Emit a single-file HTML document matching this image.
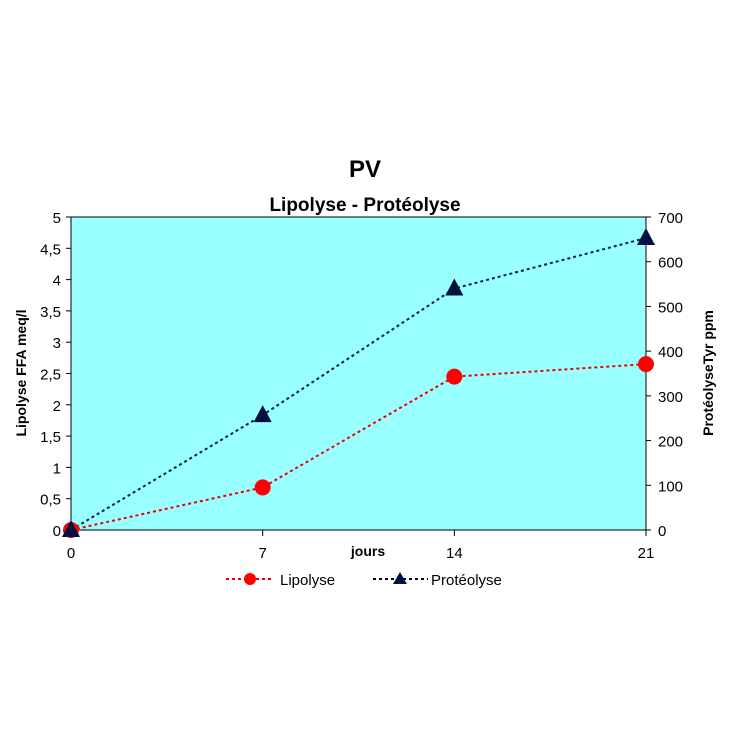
<!DOCTYPE html>
<html><head><meta charset="utf-8"><style>
body{margin:0;background:#fff;font-family:"Liberation Sans",sans-serif}
</style></head><body>
<svg width="730" height="730" xmlns="http://www.w3.org/2000/svg" font-family="Liberation Sans, sans-serif">
<rect width="730" height="730" fill="#fff"/>
<text x="365" y="177" text-anchor="middle" font-size="24" font-weight="bold">PV</text>
<text x="365" y="211" text-anchor="middle" font-size="19" font-weight="bold">Lipolyse - Protéolyse</text>
<rect x="71" y="217" width="575" height="313" fill="#99ffff" stroke="#000" stroke-width="1"/>
<g id="axes"></g>
<g id="series"></g>
<text transform="translate(26,373) rotate(-90)" text-anchor="middle" font-size="14" font-weight="bold">Lipolyse FFA meq/l</text>
<text transform="translate(713,373) rotate(-90)" text-anchor="middle" font-size="14" font-weight="bold">ProtéolyseTyr ppm</text>
<text x="368" y="556" text-anchor="middle" font-size="14" font-weight="bold">jours</text>
<g>
<g>
<line x1="226" y1="579" x2="274" y2="579" stroke="#e00" stroke-width="2" stroke-dasharray="3,3"/>
<circle cx="250" cy="579" r="6" fill="#f00"/>
<text x="280" y="585" font-size="15">Lipolyse</text></g>
<g>
<line x1="373" y1="579" x2="428" y2="579" stroke="#002" stroke-width="2" stroke-dasharray="3,3"/>
<polygon points="400,572 407,584 393,584" fill="#001040"/>
<text x="431" y="585" font-size="15">Protéolyse</text></g>
</g>
</svg>
<script>
const days=[0,7,14,21];
const lipolyse=[0,0.68,2.45,2.65];
const proteolyse=[0,257,540,653];
const leftTicks=["0","0,5","1","1,5","2","2,5","3","3,5","4","4,5","5"];
const rightTicks=[0,100,200,300,400,500,600,700];
const NS="http://www.w3.org/2000/svg";
const X0=71,X1=646,Y0=530,Y1=217;
const xs=d=>X0+(d/21)*(X1-X0);
const yl=v=>Y0-(v/5)*(Y0-Y1);
const yr=v=>Y0-(v/700)*(Y0-Y1);
function mk(tag,attrs,parent,text){const e=document.createElementNS(NS,tag);for(const k in attrs)e.setAttribute(k,attrs[k]);if(text!==undefined)e.textContent=text;parent.appendChild(e);return e;}
const ax=document.getElementById('axes');
leftTicks.forEach((t,i)=>{const y=yl(i*0.5);
mk('line',{x1:X0-5,y1:y,x2:X0,y2:y,stroke:'#000'},ax);
const e=mk('text',{x:X0-10,y:y+6,'text-anchor':'end','font-size':15},ax,t);

});
rightTicks.forEach(v=>{const y=yr(v);
mk('line',{x1:X1,y1:y,x2:X1+5,y2:y,stroke:'#000'},ax);
const e=mk('text',{x:X1+12,y:y+6,'font-size':15},ax,String(v));

});
days.forEach(d=>{const x=xs(d);
mk('line',{x1:x,y1:Y0,x2:x,y2:Y0+6,stroke:'#000'},ax);
const e=mk('text',{x:x,y:Y0+28,'text-anchor':'middle','font-size':15},ax,String(d));

});
const s=document.getElementById('series');
const pl=mk('polyline',{points:days.map((d,i)=>xs(d)+','+yr(proteolyse[i])).join(' '),fill:'none',stroke:'#002060','stroke-width':2,'stroke-dasharray':'3,3'},s);


const ll=mk('polyline',{points:days.map((d,i)=>xs(d)+','+yl(lipolyse[i])).join(' '),fill:'none',stroke:'#e00','stroke-width':2,'stroke-dasharray':'3,3'},s);


days.forEach((d,i)=>{const x=xs(d),y=yl(lipolyse[i]);
const c=mk('circle',{cx:x,cy:y,r:8,fill:'#f00'},s);

});
days.forEach((d,i)=>{const x=xs(d),y=yr(proteolyse[i]);
const p=mk('polygon',{points:`${x},${y-10} ${x+9},${y+7} ${x-9},${y+7}`,fill:'#001040'},s);

});
</script>
</body></html>
